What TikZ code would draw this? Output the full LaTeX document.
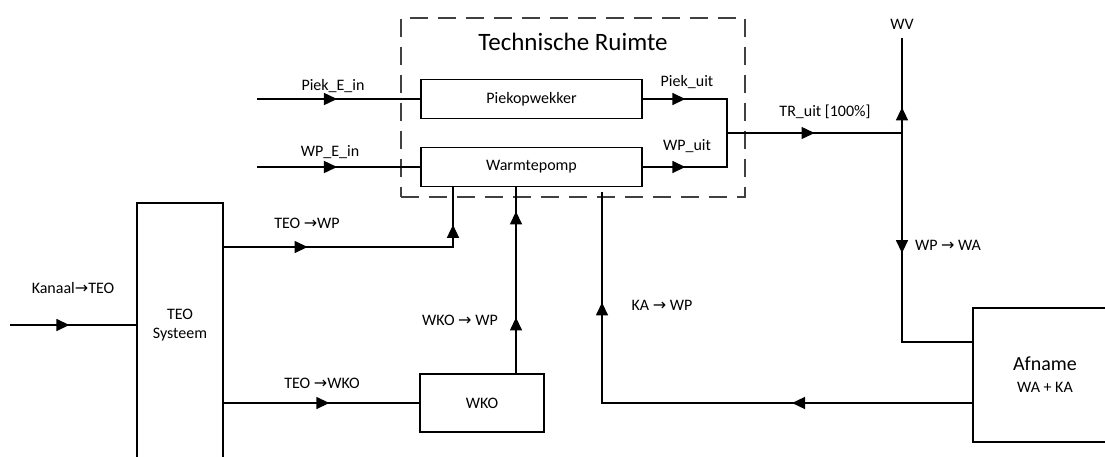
\documentclass[tikz,border=0pt]{standalone}
\usepackage{fontspec}
\setmainfont{Carlito}
\newfontfamily\arrowfont{DejaVu Sans}
\usetikzlibrary{arrows.meta,decorations.markings}
\newcommand{\flowto}{{\arrowfont\symbol{"2192}}}

\tikzset{
  unit/.style={draw, line width=1.5pt, inner sep=0pt, align=center, font=\fontsize{16}{19}\selectfont},
  lbl/.style={font=\fontsize{16}{19}\selectfont, inner sep=1pt},
  pipe/.style={line width=1.5pt},
  tip/.style={postaction={decorate}, decoration={markings,
      mark=at position #1 with {\arrow{Triangle[length=13pt,width=12pt]}}}},
  tiptwo/.style 2 args={postaction={decorate}, decoration={markings,
      mark=at position #1 with {\arrow{Triangle[length=13pt,width=12pt]}},
      mark=at position #2 with {\arrow{Triangle[length=13pt,width=12pt]}}}},
}

\begin{document}
\begin{tikzpicture}[x=1pt,y=-1pt]
\clip (0,0) rectangle (1105,456);

% technische ruimte
\node[draw, black!75, line width=1.5pt, dash pattern=on 18pt off 10pt, minimum width=344pt, minimum height=179pt] (tr) at (573,107.5) {};
\node[font=\fontsize{25}{30}\selectfont] (trtitle) at (573,42) {Technische Ruimte};
\node[unit, minimum width=221pt, minimum height=39pt] (piek) at (531.5,99) {Piekopwekker};
\node[unit, minimum width=221pt, minimum height=39pt] (wp) at (531.5,167) {Warmtepomp};

% overige eenheden
\node[unit, minimum width=86pt, minimum height=273pt] (teo) at (180,339.5) {};
\node[lbl, align=center] (teotxt) at (180,325) {TEO\\Systeem};
\node[unit, minimum width=124pt, minimum height=58pt] (wko) at (482,403) {WKO};
\node[unit, minimum width=144pt, minimum height=134pt, font=\fontsize{20}{24}\selectfont] (afname) at (1045,375) {Afname\\[-2pt]{\fontsize{16}{19}\selectfont WA + KA}};

% leidingen
\coordinate (kin) at (10,325);
\coordinate (piekin) at (257,99);
\coordinate (wpin) at (257,167);
\coordinate (trj) at (727,133);
\coordinate (wvj) at (902,133);
\coordinate (wv) at (902,38);
\coordinate (kaend) at (602,192);

\draw[pipe, tip=0.47] (kin) -- (kin -| teo.west);
\draw[pipe, tip=0.49] (piekin) -- (piek.west);
\draw[pipe, tip=0.49] (wpin) -- (wp.west);
\draw[pipe, tip=0.36] (piek.east) -| (trj);
\draw[pipe, tip=0.36] (wp.east) -| (trj);
\draw[pipe, tip=0.5] (trj) -- (wvj);
\draw[pipe, tip=0.27] (wvj) -- (wv);
\draw[pipe, tip=0.43] (wvj) |- (afname.west |- 0,342);
\draw[pipe, tiptwo={0.31}{0.81}] (afname.west |- 0,403) -| (kaend);
\draw[pipe, tiptwo={0.29}{0.87}] (teo.east |- 0,247) -| (wp.south -| 453,0);
\draw[pipe, tip=0.54] (teo.east |- wko.west) -- (wko.west);
\draw[pipe, tiptwo={0.30}{0.87}] (wko.north -| 516,0) -- (wp.south -| 516,0);

% labels
\node[lbl] (lkanaal) at (73,288) {Kanaal\flowto TEO};
\node[lbl] (lpiekin) at (333,86) {Piek\_E\_in};
\node[lbl] (lwpin) at (330,152) {WP\_E\_in};
\node[lbl] (lpiekuit) at (687,82) {Piek\_uit};
\node[lbl] (lwpuit) at (687,146) {WP\_uit};
\node[lbl] (ltruit) at (825,112) {TR\_uit [100\%]};
\node[lbl] (lwv) at (902,24) {WV};
\node[lbl] (lwpwa) at (948,245) {WP \flowto{} WA};
\node[lbl] (lkawp) at (662,305) {KA \flowto{} WP};
\node[lbl] (lwkowp) at (460,320) {WKO \flowto{} WP};
\node[lbl] (lteowp) at (307,223) {TEO \flowto WP};
\node[lbl] (lteowko) at (322,383) {TEO \flowto WKO};
\end{tikzpicture}
\end{document}
